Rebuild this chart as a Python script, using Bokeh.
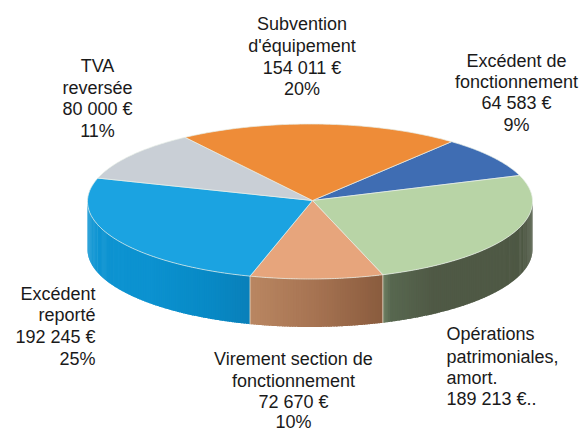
import numpy as np
from bokeh.plotting import figure
from bokeh.models import Range1d
from bokeh.core.properties import value
from bokeh.embed import file_html
from bokeh.resources import INLINE

# data, clockwise starting at the orange/blue boundary
categories = ["Excédent de fonctionnement", "Opérations patrimoniales, amort.",
              "Virement section de fonctionnement", "Excédent reporté",
              "TVA reversée", "Subvention d'équipement"]
amounts = [64583, 189213, 72670, 192245, 80000, 154011]

top_colors = ["#3F6DB3", "#B8D4A6", "#E7A57C", "#1BA3E1", "#C9CFD6", "#EE8C38"]
wall_stops = {
    0: [(0.0, (50, 85, 140)), (1.0, (50, 85, 140))],
    1: [(0.0, (78, 88, 68)), (0.80, (80, 90, 70)), (0.97, (88, 104, 80)), (1.0, (112, 130, 100))],
    2: [(0.0, (138, 92, 62)), (0.5, (166, 115, 82)), (1.0, (186, 135, 98))],
    3: [(0.0, (10, 128, 186)), (0.15, (8, 138, 198)), (0.4, (12, 146, 208)), (1.0, (16, 150, 212))],
    4: [(0.0, (160, 165, 170)), (1.0, (160, 165, 170))],
    5: [(0.0, (190, 110, 40)), (1.0, (190, 110, 40))],
}

W, H = 582, 430
CX, CY, RX, RY = 309.5, 201.0, 222.5, 77.5
HUBX, HUBY = 312.0, 200.0
DEPTH = 48.0
START = 39.5

p = figure(width=W, height=H, output_backend="svg", toolbar_location=None,
           x_range=Range1d(0, W), y_range=Range1d(H, 0),
           min_border=0, outline_line_color=None, background_fill_color="white")
p.axis.visible = False
p.grid.visible = False


def rim(theta):
    t = np.radians(theta)
    return CX + RX * np.sin(t), CY - RY * np.cos(t)


fractions = np.array(amounts, dtype=float) / sum(amounts)
edges = START + 360 * np.concatenate([[0], np.cumsum(fractions)])

# side wall, drawn as thin strips to shade it
for i in range(len(amounts)):
    a0 = edges[i] % 360
    a1 = a0 + (edges[i + 1] - edges[i])
    lo, hi = max(a0, 90), min(a1, 270)
    if hi <= lo:
        continue
    stops = wall_stops[i]
    ps = [s[0] for s in stops]
    n = max(int((hi - lo) * 1.5), 2)
    ang = np.linspace(lo, hi, n + 1)
    xs, ys, cols = [], [], []
    for k in range(n):
        seg = np.linspace(ang[k], min(ang[k + 1] + 0.4, hi), 4)
        rx_, ry_ = rim(seg)
        xs.append(list(rx_) + list(rx_[::-1]))
        ys.append(list(ry_) + list(ry_[::-1] + DEPTH))
        f = (0.5 * (ang[k] + ang[k + 1]) - lo) / (hi - lo)
        rgb = [int(np.interp(f, ps, [s[1][c] for s in stops])) for c in range(3)]
        cols.append("#%02x%02x%02x" % tuple(rgb))
    p.patches(xs, ys, fill_color=cols, line_color=None)

# wall seams
for e in edges[:-1]:
    th = e % 360
    if 90 < th < 270:
        x0, y0 = rim(th)
        p.line([x0, x0], [y0, y0 + DEPTH], line_color="#E6D9C8", line_width=1, line_alpha=0.8)

# top faces
xs, ys = [], []
for i in range(len(amounts)):
    seg = np.linspace(edges[i], edges[i + 1], 80)
    rx_, ry_ = rim(seg)
    xs.append([HUBX] + list(rx_))
    ys.append([HUBY] + list(ry_))
p.patches(xs, ys, fill_color=top_colors, line_color="#E8EEE8", line_width=0.8, line_alpha=0.9)

# label blocks
FONT = value("Liberation Sans")
SIZE = "18px"
blocks = [
    (["Subvention", "d'équipement", "154 011 €", "20%"], 301.5, [23, 45, 67, 88], "center"),
    (["TVA", "reversée", "80 000 €", "11%"], 97, [65, 87, 108, 130], "center"),
    (["Excédent de", "fonctionnement", "64 583 €", "9%"], 516, [60, 81, 102, 124], "center"),
    (["Excédent", "reporté", "192 245 €", "25%"], 95, [293, 314, 336, 358], "right"),
    (["Opérations", "patrimoniales,", "amort.", "189 213 €.."], 446, [333, 356, 377, 398], "left"),
    (["Virement section de", "fonctionnement", "72 670 €", "10%"], 293, [358, 380, 401, 421], "center"),
]
for lines, x, y_list, align in blocks:
    p.text([x] * len(lines), y_list, text=lines, text_font=FONT, text_font_size=SIZE,
           text_color="#1a1a1a", text_align=align, text_baseline="middle")

open("out.html", "w").write(file_html(p, INLINE))
